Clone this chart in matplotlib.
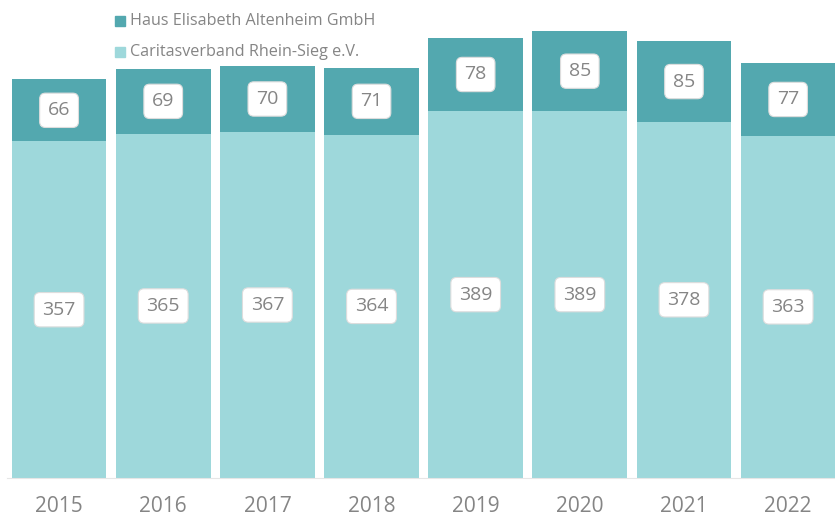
import matplotlib.pyplot as plt
from matplotlib.patches import Rectangle

years = ["2015", "2016", "2017", "2018", "2019", "2020", "2021", "2022"]
caritas = [357, 365, 367, 364, 389, 389, 378, 363]
haus = [66, 69, 70, 71, 78, 85, 85, 77]
series_names = ["Haus Elisabeth Altenheim GmbH", "Caritasverband Rhein-Sieg e.V."]

dark = "#53a8af"
light = "#9ed8db"
grey = "#858585"
plt.rcParams['font.family'] = ['Open Sans', 'DejaVu Sans']

fig = plt.figure(figsize=(8.35, 5.2), dpi=100)
ax = fig.add_axes([7/835, 42/520, 828/835, 478/520])

x = range(len(years))
ax.bar(x, caritas, width=0.91, color=light)
ax.bar(x, haus, width=0.91, bottom=caritas, color=dark)
ax.set_xlim(-0.5, 7.45)
ax.set_ylim(0, 507)

box = dict(boxstyle="round,pad=0.42,rounding_size=0.3", fc="white", ec="#dddddd", lw=0.8)
for i in x:
    ax.text(i, caritas[i] / 2, str(caritas[i]), ha="center", va="center",
            fontsize=14, color=grey, bbox=box)
    ax.text(i, caritas[i] + haus[i] / 2, str(haus[i]), ha="center", va="center",
            fontsize=14, color=grey, bbox=box)

for s in ["top", "right", "left"]:
    ax.spines[s].set_visible(False)
ax.spines["bottom"].set_color("#e6e6e6")
ax.set_yticks([])
ax.set_xticks(list(x))
ax.set_xticklabels(years, fontsize=15, color=grey)
ax.tick_params(axis="x", length=0, pad=13)

# legend
for j, (name, col) in enumerate(zip(series_names, [dark, light])):
    yy = 1 - (21 + 31 * j) / 520
    fig.patches.append(Rectangle((115/835, yy - 5/520), 10/835, 10/520,
                                 transform=fig.transFigure, color=col))
    fig.text(130/835, yy, name, fontsize=11.6, color=grey, va="center")

fig.savefig("out.png", dpi=100)
